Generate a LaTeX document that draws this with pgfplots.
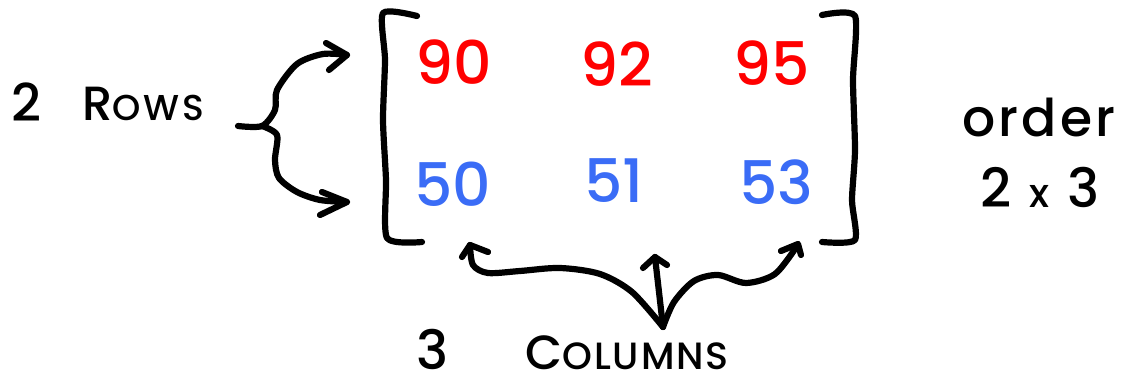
\documentclass[border=0pt]{standalone}
\usepackage{pgfplots}
\pgfplotsset{compat=1.18}
\usepackage{fontspec}
\setmainfont{Poppins Medium}
\definecolor{rowred}{RGB}{255,0,0}
\definecolor{rowblue}{RGB}{58,108,246}
\begin{document}
\begin{tikzpicture}
\begin{axis}[
    scale only axis,
    width=563pt, height=194.5pt,
    xmin=0, xmax=1126, ymin=0, ymax=389,
    y dir=reverse,
    hide axis,
    clip=false,
    no markers,
    hand/.style={black, line width=3.1pt, line cap=round, line join=round},
]
    % matrix entries
    \addplot[draw=none, mark=none, nodes near coords, point meta=explicit symbolic,
        every node near coord/.style={anchor=center, text=rowred, font=\fontsize{30}{30}\selectfont}]
        coordinates {(454,62) [90] (617,64) [92] (772,63) [95]};
    \addplot[draw=none, mark=none, nodes near coords, point meta=explicit symbolic,
        every node near coord/.style={anchor=center, text=rowblue, font=\fontsize{30}{30}\selectfont}]
        coordinates {(453,184) [50] (614,181) [51] (776,182) [53]};

    % brackets
    \addplot[hand, smooth, tension=0.4] coordinates {(417,16) (383,13) (385,60) (383,120) (386,180) (387,238) (422,242)};
    \addplot[hand, smooth, tension=0.4] coordinates {(822,15) (855,16) (853,80) (855,150) (852,200) (855,240) (822,242)};

    % brace with arrows (rows)
    \addplot[hand, smooth] coordinates {(238,126) (262,126) (275,110) (277,90) (297,64) (323,54) (347,55)};
    \addplot[hand] coordinates {(326,43) (347,55) (329,70)};
    \addplot[hand, smooth] coordinates {(262,126) (277,135) (275,160) (279,178) (297,192) (320,200) (347,202)};
    \addplot[hand] coordinates {(322,192) (347,202) (320,215)};

    % arrows (columns)
    \addplot[hand, smooth] coordinates {(663,327) (632,292) (600,274) (560,268) (520,271) (488,273) (473,265) (470,245)};
    \addplot[hand] coordinates {(462,257) (470,245) (488,252)};
    \addplot[hand] coordinates {(663,327) (655,257)};
    \addplot[hand] coordinates {(643,268) (655,257) (667,265)};
    \addplot[hand, smooth] coordinates {(663,327) (674,302) (694,281) (718,275) (746,283) (775,274) (797,246)};
    \addplot[hand] coordinates {(781,251) (798,244) (801,255)};

    % labels
    \node[anchor=base west, inner sep=0pt] at (axis cs:11,122)
        {\fontsize{26}{26}\selectfont 2};
    \node[anchor=base west, inner sep=0pt] at (axis cs:82,121)
        {\addfontfeature{LetterSpace=8}\fontsize{24}{24}\selectfont R\fontsize{18}{18}\selectfont OWS};
    \node[anchor=base west, inner sep=0pt] at (axis cs:962,137)
        {\addfontfeature{LetterSpace=6}\fontsize{26}{26}\selectfont order};
    \node[anchor=base west, inner sep=0pt] at (axis cs:980,208)
        {\fontsize{27}{27}\selectfont 2\hspace{9pt}\fontsize{20}{20}\selectfont x\hspace{9pt}\fontsize{27}{27}\selectfont 3};
    \node[anchor=base west, inner sep=0pt] at (axis cs:416,370) {\fontsize{27}{27}\selectfont 3};
    \node[anchor=base west, inner sep=0pt] at (axis cs:525,370)
        {\addfontfeature{LetterSpace=5}\fontsize{24}{24}\selectfont C\fontsize{19}{19}\selectfont OLUMNS};
\end{axis}
\pgfresetboundingbox
\path[use as bounding box] (current axis.south west) rectangle (current axis.north east);
\end{tikzpicture}
\end{document}
